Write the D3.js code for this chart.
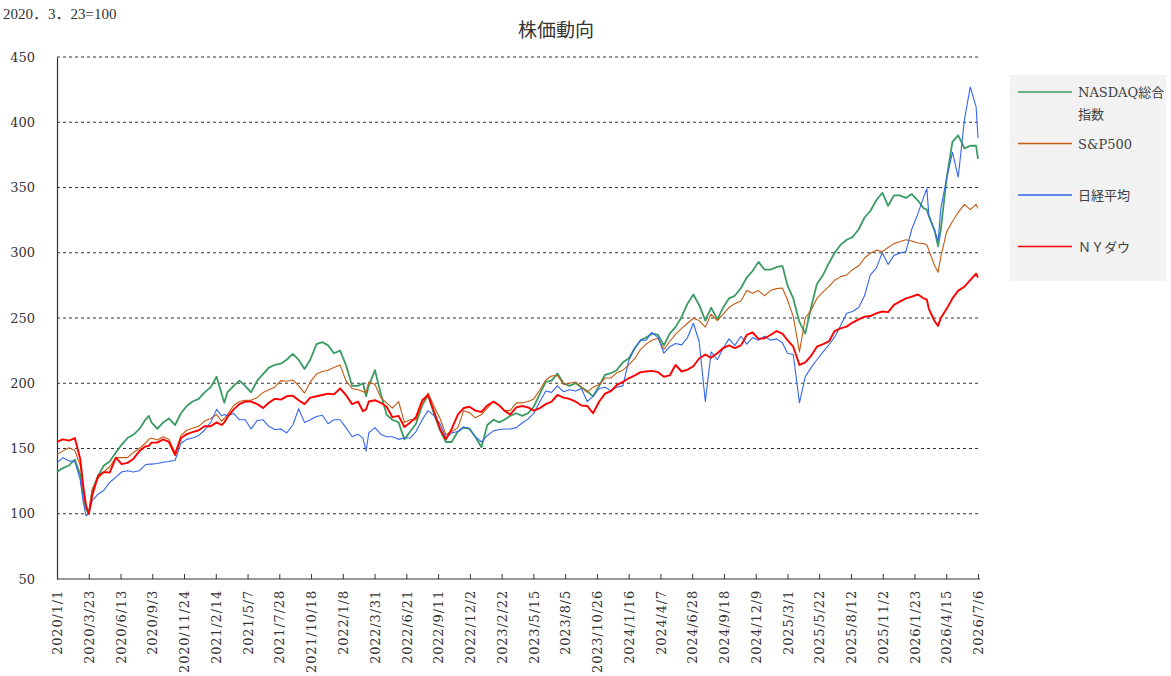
<!DOCTYPE html>
<html lang="ja">
<head>
<meta charset="UTF-8">
<title>株価動向</title>
<style>
  body { margin: 0; background: #fff; }
  svg { display: block; background: #fff; }
  .axis-label { font-family: "DejaVu Serif", serif; font-size: 13px; fill: #333; }
  .grid line { stroke: #333; stroke-width: 1; stroke-dasharray: 3,3; }
  .legend-text { font-family: "DejaVu Serif", "Noto Sans CJK JP", serif; font-size: 13px; fill: #404040; }
</style>
</head>
<body>
<div id="chart"></div>
<script src="https://d3js.org/d3.v7.min.js"></script>
<script>
// 2020.3.23 = 100 (semi-monthly readings)
const dates = [
  "2020-01-01","2020-01-16","2020-02-01","2020-02-16","2020-03-01","2020-03-09","2020-03-16","2020-03-23",
  "2020-04-01","2020-04-16","2020-05-01","2020-05-16","2020-06-01","2020-06-16","2020-07-01","2020-07-16",
  "2020-08-01","2020-08-16","2020-08-25","2020-09-01","2020-09-16","2020-10-01","2020-10-16","2020-11-01",
  "2020-11-16","2020-12-01","2020-12-16",
  "2021-01-01","2021-01-16","2021-02-01","2021-02-16","2021-03-01","2021-03-08","2021-03-16","2021-04-01",
  "2021-04-16","2021-05-01","2021-05-16","2021-06-01","2021-06-16","2021-07-01","2021-07-16","2021-08-01",
  "2021-08-16","2021-09-01","2021-09-16","2021-10-01","2021-10-16","2021-11-01","2021-11-16","2021-12-01",
  "2021-12-16",
  "2022-01-01","2022-01-16","2022-02-01","2022-02-16","2022-03-01","2022-03-09","2022-03-16","2022-04-01",
  "2022-04-16","2022-05-01","2022-05-16","2022-06-01","2022-06-16","2022-07-01","2022-07-16","2022-08-01",
  "2022-08-16","2022-09-01","2022-09-16","2022-10-01","2022-10-16","2022-11-01","2022-11-16","2022-12-01",
  "2022-12-16",
  "2023-01-01","2023-01-16","2023-02-01","2023-02-16","2023-03-01","2023-03-16","2023-04-01","2023-04-16",
  "2023-05-01","2023-05-16","2023-06-01","2023-06-16","2023-07-01","2023-07-16","2023-08-01","2023-08-16",
  "2023-09-01","2023-09-16","2023-10-01","2023-10-16","2023-11-01","2023-11-16","2023-12-01","2023-12-16",
  "2024-01-01","2024-01-16","2024-02-01","2024-02-16","2024-03-01","2024-03-16","2024-04-01","2024-04-16",
  "2024-05-01","2024-05-16","2024-06-01","2024-06-16","2024-07-01","2024-07-16","2024-08-01","2024-08-16",
  "2024-09-01","2024-09-16","2024-10-01","2024-10-16","2024-11-01","2024-11-16","2024-12-01","2024-12-16",
  "2025-01-01","2025-01-16","2025-02-01","2025-02-16","2025-03-01","2025-03-16","2025-04-01","2025-04-16",
  "2025-05-01","2025-05-16","2025-06-01","2025-06-16","2025-07-01","2025-07-16","2025-08-01","2025-08-16",
  "2025-09-01","2025-09-16","2025-10-01","2025-10-16","2025-11-01","2025-11-16","2025-12-01","2025-12-16",
  "2026-01-01","2026-01-16","2026-02-01","2026-02-16","2026-02-24","2026-03-01","2026-03-16","2026-03-25",
  "2026-04-01","2026-04-16","2026-05-01","2026-05-16","2026-06-01","2026-06-16","2026-07-01","2026-07-06"
];

const nasdaq = [
  132,135,137,141.5,130,112,104,100,
  118,129,137,140,147,153,158,160.5,
  165,172,175,170,165,170,173,168,
  177,182.6,186,
  188,193,197,205,192,185,193,198,
  202,198,193,202,207,212,214,215,
  218,222.5,218,211,218,230,231.5,229,
  223,
  225,214,198,198,200,190,198,210,
  192,176,172,170,157,163,169,183,
  191,176,164,155,155,163,166,165,
  159,
  151,168,172,170,172,175,177,175,
  177,182,192,201,202,207.5,200,198,
  200,197,194,190,198,206.5,207.7,210,
  216,219,227,233,235,238,237,229,
  238,243,251,261,268,260,248,258,
  249,258,265,267,273,281,286,293,
  287,287,289,290,275,265,247,238,
  258,276,283,292,300,306,310,312,
  318,327,332,340,346,336,344,344,
  342,345,340,334,333,328,317,305,
  318,357,385,390,380,382,382,372
];

const sp500 = [
  145.6,148,150.5,148.5,137,119,106,100,
  119,127,132,136,143,143,143,147,
  150,154,157,158,156.5,159,157,147,
  160,164,165.5,
  167,171,173,176,171,173,176,183,
  186,187,187,189,193,195,197,202,
  201.5,202.5,198,192.5,201,207,209,210,
  212,
  214,202,196,195,193.6,193,201,199,
  189,185,181,186,170,172,172,184,
  192.5,182,173,160.5,163,166,179,177.5,
  173.5,
  176,181,186,183,179,179,185,185,
  186,188,195,202.5,205.6,206,199,200,
  201,197,193,197,199,204,204,208,
  210,214,219,226,230,233,234.5,226,
  232,237.5,242,246,249.8,248,243,253,
  248,253,258,261,263,271,269,271,
  267,271,272.5,273,264,251,224,250,
  256,265,270,274,279,281.7,283,287,
  290,296,299.6,302,301,304,307,308.5,
  310,309,307.5,307,306,302,290,285,
  297,316,324,331,337,333,337,334
];

const nikkei = [
  139,143,140.5,140,126,108.6,98.5,100,
  110,115,118,124,128,132,133,132,
  133,137.5,138,138,138.5,139.5,140,141,
  154,157,158,
  160,164,170,180,175,176,175,177,
  172,172,165,171.5,172,167,164.5,165,
  162,168,180.5,170,172,174.5,175.5,169,
  172,
  172,166,159,161,158,148,162,166,
  161,159,159,157,158,158,163,172,
  179,175,169,158,162,163,166.5,165.5,
  159,
  155,160,163.5,164.5,165,165,166,169.5,
  172.5,177,186,194,193,198,193.5,195,
  194,196,186,190,196,197,194,197,
  198,217,227,233,233,239,235,223,
  228,230.5,229.4,235,246,232,186,224,
  218,226.8,234,229,236,230,235,233,
  236,233,234,231,223,222,185,205,
  212,218,224,229.5,235.5,244,253.6,255,
  258,267,283,288,300,291,298,299.6,
  301,318,330,343,349,329,317,309,
  334,357,377,358,402,427,412,388
];

const nydow = [
  155,157,156,158,142,121,106,100,
  114,129,132,131.5,143,138,139,142,
  148,151.5,152,154.5,154.5,157,155,145,
  158,161,162.5,
  164,167,167,170,168,170,174,180,
  184,186,186,184,181,185,188,187.5,
  190,190.5,187,184,189,190,191,192,
  191.5,
  196,191,184,186,178.5,180,186,187,
  185,182,174,175,166.5,170,174,187,
  191,178,165,157,165,176,181,182,
  179,
  178,183,186,183,179,176,181.5,182.6,
  181.5,179,181,184,186,191,189,188,
  186,183,182.6,177,186,192,194,198.5,
  201,203.8,206,208.5,209,209.5,208.5,205,
  206,214,209,210.5,213,219,222,219.5,
  223,227,229,227,229,237,239,234,
  234.5,237,240,238,233,228,214,216,
  221,228,230,232,240,242,243.4,246.5,
  249,251,251.5,253.5,255,254.5,260,262.5,
  265,266.4,268,265,264,257,247.5,244,
  250,257,265,271,274,279,284,281
];

const xTickLabels = [
  "2020/1/1","2020/3/23","2020/6/13","2020/9/3","2020/11/24","2021/2/14","2021/5/7","2021/7/28",
  "2021/10/18","2022/1/8","2022/3/31","2022/6/21","2022/9/11","2022/12/2","2023/2/22","2023/5/15",
  "2023/8/5","2023/10/26","2024/1/16","2024/4/7","2024/6/28","2024/9/18","2024/12/9","2025/3/1",
  "2025/5/22","2025/8/12","2025/11/2","2026/1/23","2026/4/15","2026/7/6"
];
const yTicks = [50, 100, 150, 200, 250, 300, 350, 400, 450];

const seriesNames = ["NASDAQ総合指数", "S&P500", "日経平均", "ＮＹダウ"];
const seriesValues = [nasdaq, sp500, nikkei, nydow];
const seriesColors = ["#3b9c63", "#c55a11", "#3366ee", "#ff0000"];
const seriesWidths = [1.8, 1.1, 1.1, 1.9];

const W = 1171, H = 676;
const plotLeft = 57, plotRight = 978, plotTop = 57, plotBottom = 579;

const parseDay = d3.timeParse("%Y-%m-%d");
const parseTick = d3.timeParse("%Y/%m/%d");
const dayList = dates.map(parseDay);
const tickDates = xTickLabels.map(parseTick);

const svg = d3.select("#chart").append("svg")
    .attr("width", W)
    .attr("height", H);

const x = d3.scaleTime()
    .domain([tickDates[0], tickDates[tickDates.length - 1]])
    .range([plotLeft, plotRight]);

const y = d3.scaleLinear()
    .domain([50, 450])
    .range([plotBottom, plotTop]);

// horizontal dashed grid
svg.append("g")
    .attr("class", "grid")
    .selectAll("line")
    .data(yTicks.filter(v => v > 50))
    .enter().append("line")
    .attr("x1", plotLeft)
    .attr("x2", 980)
    .attr("y1", d => y(d))
    .attr("y2", d => y(d));

// y axis
const yAxis = svg.append("g")
    .attr("transform", `translate(${plotLeft},0)`)
    .call(d3.axisLeft(y).tickValues(yTicks).tickSize(0).tickPadding(22));
yAxis.select(".domain").attr("stroke", "#333").attr("stroke-width", 1.2);
yAxis.selectAll("text").attr("class", "axis-label").attr("font-family", null).attr("font-size", null);

// x axis, ticks pointing up into the plot
const xAxis = svg.append("g")
    .attr("transform", `translate(0,${plotBottom})`)
    .call(d3.axisBottom(x).tickValues(tickDates).tickSizeInner(-5).tickSizeOuter(0)
        .tickFormat((d, i) => xTickLabels[i]));
xAxis.select(".domain").attr("stroke", "#333").attr("stroke-width", 1.2)
    .attr("d", `M${plotLeft},0H980`);
xAxis.selectAll(".tick line").attr("stroke", "#333");
xAxis.selectAll("text")
    .attr("class", "axis-label")
    .attr("font-family", null).attr("font-size", null)
    .attr("letter-spacing", "0.8px")
    .attr("transform", "rotate(-90)")
    .attr("x", -11)
    .attr("y", 0)
    .attr("dy", "0.36em")
    .attr("text-anchor", "end");

// series lines
const line = d3.line()
    .x((d, i) => x(dayList[i]))
    .y(d => y(d));

svg.append("g")
    .selectAll("path")
    .data(seriesValues)
    .enter().append("path")
    .attr("fill", "none")
    .attr("stroke", (d, i) => seriesColors[i])
    .attr("stroke-width", (d, i) => seriesWidths[i])
    .attr("stroke-linejoin", "round")
    .attr("d", line);

// titles
svg.append("text")
    .attr("x", 3)
    .attr("y", 19)
    .attr("font-family", "Liberation Serif, Noto Sans CJK JP, serif")
    .attr("font-size", 15)
    .attr("fill", "#333")
    .text("2020．3．23=100");

svg.append("text")
    .attr("x", 556)
    .attr("y", 37)
    .attr("text-anchor", "middle")
    .attr("font-family", "Noto Sans CJK JP, sans-serif")
    .attr("font-size", 19)
    .attr("fill", "#333")
    .text("株価動向");

// legend
const legend = svg.append("g");
legend.append("rect")
    .attr("x", 1010).attr("y", 75)
    .attr("width", 156).attr("height", 206)
    .attr("fill", "#f2f2f2");

const item = legend.selectAll("g.item")
    .data(seriesNames)
    .enter().append("g")
    .attr("class", "item")
    .attr("transform", (d, i) => `translate(1018,${92 + i * 51.5})`);

item.append("line")
    .attr("x1", 0).attr("x2", 54)
    .attr("stroke", (d, i) => seriesColors[i])
    .attr("stroke-width", 1.5);

const label = item.append("text")
    .attr("class", "legend-text")
    .attr("x", 60)
    .attr("y", 5);

label.each(function (d) {
    const t = d3.select(this);
    if (d === "NASDAQ総合指数") {
        t.append("tspan").attr("x", 60).attr("y", 5).text("NASDAQ総合");
        t.append("tspan").attr("x", 60).attr("y", 27).text("指数");
    } else {
        t.text(d);
    }
});
</script>
</body>
</html>
